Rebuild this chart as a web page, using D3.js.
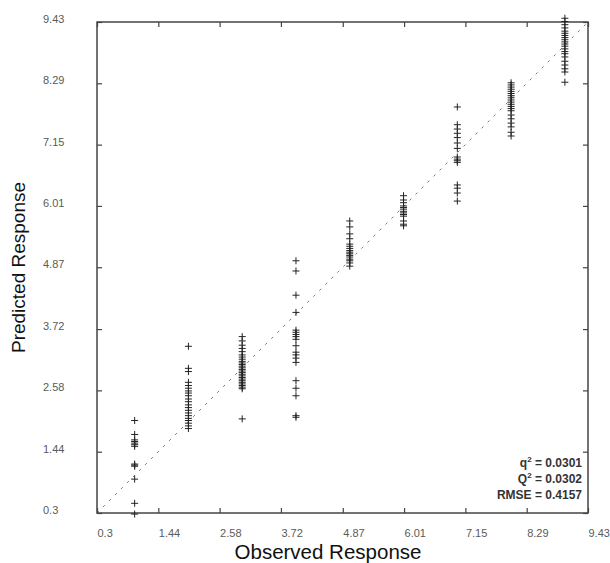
<!DOCTYPE html>
<html><head><meta charset="utf-8">
<script src="https://cdn.jsdelivr.net/npm/d3@7"></script>
<style>body{margin:0;background:#fff;}svg{display:block;}</style>
</head><body>
<script>
const tickValues = [0.3, 1.44, 2.58, 3.72, 4.87, 6.01, 7.15, 8.29, 9.43];
const tickLabels = ["0.3","1.44","2.58","3.72","4.87","6.01","7.15","8.29","9.43"];
const observed = [1, 2, 3, 4, 5, 6, 7, 8, 9];
const pred1 = [2.02, 1.76, 1.66, 1.63, 1.60, 1.57, 1.54, 1.21, 1.19, 1.17, 0.93, 0.48, 0.28];
const pred2 = [3.40, 2.99, 2.93, 2.73, 2.67, 2.62, 2.57, 2.53, 2.48, 2.42, 2.37, 2.31, 2.26, 2.21, 2.16, 2.11, 2.06, 2.02, 1.97, 1.92, 1.87];
const pred3 = [3.58, 3.50, 3.42, 3.36, 3.30, 3.24, 3.20, 3.16, 3.12, 3.09, 3.06, 3.03, 3.00, 2.97, 2.94, 2.91, 2.88, 2.85, 2.82, 2.79, 2.76, 2.73, 2.70, 2.67, 2.64, 2.61, 2.05];
const pred4 = [4.99, 4.80, 4.35, 4.03, 3.70, 3.66, 3.62, 3.58, 3.53, 3.41, 3.29, 3.24, 3.18, 3.10, 2.76, 2.62, 2.48, 2.11, 2.08];
const pred5 = [5.73, 5.62, 5.49, 5.40, 5.30, 5.26, 5.22, 5.18, 5.15, 5.12, 5.09, 5.06, 5.02, 4.99, 4.95, 4.89];
const pred6 = [6.20, 6.12, 6.07, 6.01, 5.98, 5.95, 5.91, 5.88, 5.85, 5.82, 5.73, 5.67, 5.64];
const pred7 = [7.85, 7.52, 7.44, 7.36, 7.28, 7.18, 7.08, 6.92, 6.88, 6.85, 6.82, 6.40, 6.34, 6.25, 6.10];
const pred8 = [8.30, 8.26, 8.22, 8.18, 8.14, 8.10, 8.06, 8.02, 7.98, 7.94, 7.90, 7.86, 7.82, 7.78, 7.70, 7.63, 7.55, 7.48, 7.38, 7.31];
const pred9 = [9.50, 9.44, 9.38, 9.32, 9.26, 9.22, 9.18, 9.14, 9.10, 9.06, 9.02, 8.98, 8.93, 8.88, 8.84, 8.78, 8.70, 8.63, 8.56, 8.50, 8.31];
const predicted = [pred1, pred2, pred3, pred4, pred5, pred6, pred7, pred8, pred9];
const stats = [["q","0.0301"],["Q","0.0302"],["RMSE","0.4157"]];

const W = 610, H = 563;
const L = 97, R = 588, T = 22, B = 513;
const svg = d3.select("body").append("svg").attr("width", W).attr("height", H);
const x = d3.scaleLinear().domain([0.3, 9.43]).range([L, R]);
const y = d3.scaleLinear().domain([0.3, 9.43]).range([B, T]);
const font = "Liberation Sans, Arial, sans-serif";

// diagonal
svg.append("line")
  .attr("x1", x(0.3)).attr("y1", y(0.3)).attr("x2", x(9.43)).attr("y2", y(9.43))
  .attr("stroke", "#777").attr("stroke-width", 1).attr("stroke-dasharray", "2.5,6");

// axes
const fmt = (d) => tickLabels[tickValues.indexOf(d)];
const gx = svg.append("g").attr("transform", `translate(0,${B})`)
  .call(d3.axisBottom(x).tickValues(tickValues).tickFormat(fmt).tickSizeInner(-5).tickSizeOuter(0));
gx.selectAll("text").attr("text-anchor", "start").attr("y", 16).attr("dy", "0.71em");
const gx2 = svg.append("g").attr("transform", `translate(0,${T})`)
  .call(d3.axisTop(x).tickValues(tickValues).tickFormat("").tickSizeInner(-5).tickSizeOuter(0));
const gy = svg.append("g").attr("transform", `translate(${L},0)`)
  .call(d3.axisLeft(y).tickValues(tickValues).tickFormat(fmt).tickSizeInner(-5).tickSizeOuter(0));
gy.selectAll("text").attr("text-anchor", "start").attr("x", 43 - L).attr("dy", "0.05em");
const gy2 = svg.append("g").attr("transform", `translate(${R},0)`)
  .call(d3.axisRight(y).tickValues(tickValues).tickFormat("").tickSizeInner(-5).tickSizeOuter(0));
[gx, gx2, gy, gy2].forEach(g => {
  g.select(".domain").remove();
  g.selectAll("line").attr("stroke", "#444").attr("stroke-width", 1.2);
  g.selectAll("text").attr("fill", "#5a5a5a").style("font-family", font).style("font-size", "11px");
});
svg.append("rect").attr("x", L).attr("y", T).attr("width", R - L).attr("height", B - T)
  .attr("fill", "none").attr("stroke", "#444").attr("stroke-width", 1.5);

// points
const pts = [];
observed.forEach((o, i) => predicted[i].forEach(p => pts.push([o, p])));
svg.append("g").selectAll("path").data(pts).join("path")
  .attr("transform", d => `translate(${x(d[0])},${y(d[1])})`)
  .attr("d", "M-3.5,0H3.5M0,-3.5V3.5")
  .attr("stroke", "#222").attr("stroke-width", 1).attr("fill", "none");

// axis titles
svg.append("text").attr("x", 328).attr("y", 559).attr("text-anchor", "middle")
  .style("font-family", font).style("font-size", "20.5px").attr("fill", "#111").text("Observed Response");
svg.append("text").attr("transform", `translate(25,${(T + B) / 2}) rotate(-90)`).attr("text-anchor", "middle")
  .style("font-family", font).style("font-size", "19px").attr("fill", "#111").text("Predicted Response");

// stats annotation
const ann = svg.append("g").style("font-family", font).style("font-size", "12px").style("font-weight", "bold").attr("fill", "#333");
stats.forEach((s, i) => {
  const t = ann.append("text").attr("x", 582).attr("y", 467 + i * 16).attr("text-anchor", "end");
  t.append("tspan").text(s[0]);
  if (s[0] !== "RMSE") {
    t.append("tspan").attr("dy", -5).style("font-size", "8px").text("2");
    t.append("tspan").attr("dy", 5).text(" = " + s[1]);
  } else {
    t.append("tspan").text(" = " + s[1]);
  }
});
</script>
</body></html>
